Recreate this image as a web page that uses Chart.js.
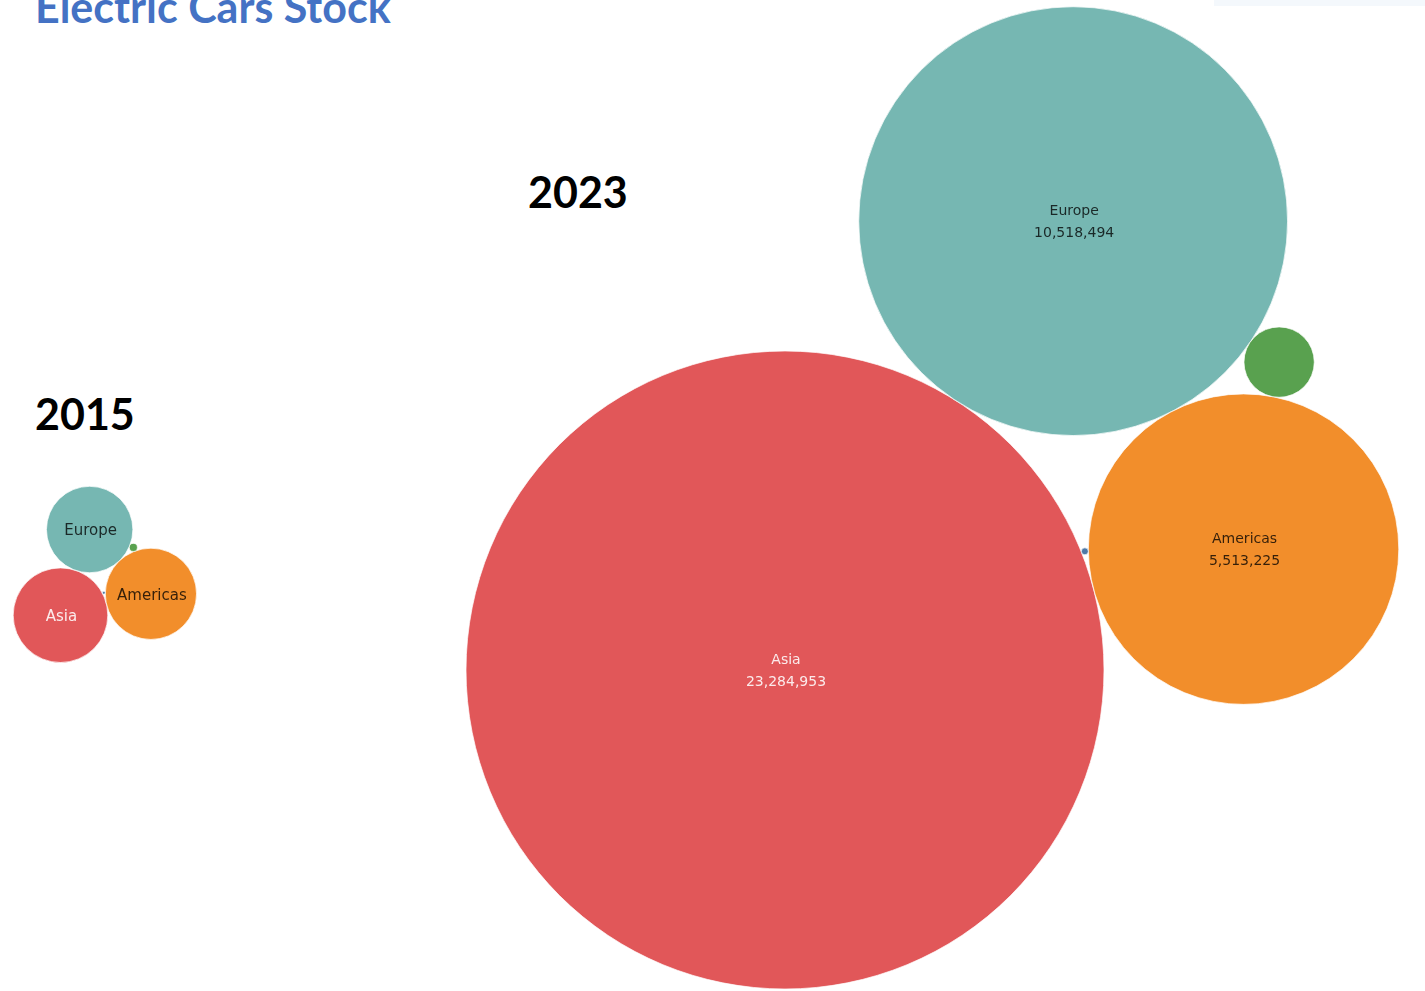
<!DOCTYPE html>
<html>
<head>
<meta charset="utf-8">
<title>Electric Cars Stock</title>
<script src="https://cdn.jsdelivr.net/npm/chart.js@4.4.1/dist/chart.umd.min.js"></script>
<style>
  html, body { margin: 0; padding: 0; background: #fff; overflow: hidden; }
  #wrap { position: relative; width: 1425px; height: 991px; }
  #bubbles { position: absolute; left: 0; top: 0; }
  .title {
    position: absolute; left: 35px; top: -15px; margin: 0;
    font: bold 43px Lato, sans-serif; line-height: 43px; color: #4472c4;
    white-space: nowrap;
  }
  .year {
    position: absolute; margin: 0; font: bold 43px Lato, sans-serif;
    line-height: 43px; color: #000;
  }
  .strip { position: absolute; left: 1214px; top: 0; width: 211px; height: 6px; background: #f4f8fc; }
</style>
</head>
<body>
<div id="wrap">
  <h1 class="title">Electric Cars Stock</h1>
  <div class="year" style="left:528px; top:170px;">2023</div>
  <div class="year" style="left:35px; top:392px;">2015</div>
  <div class="strip"></div>
  <canvas id="bubbles" width="1425" height="991"></canvas>
</div>
<script>
// electric car stock by region
const regions = ['Asia', 'Europe', 'Americas', 'Oceania', 'Africa'];
const stock2015 = [512000, 427000, 476000, 3700, 500];
const stock2023 = [23284953, 10518494, 5513225, 283000, 2800];

const regionColors = {
  Asia: '#e15759',
  Europe: '#76b7b2',
  Americas: '#f28e2b',
  Oceania: '#59a14f',
  Africa: '#4e79a7'
};

const maxRadius = 319; // px for the biggest stock
const maxStock = Math.max(...stock2015, ...stock2023);
const radiusFor = v => maxRadius * Math.sqrt(v / maxStock);

// circle of radius r touching circles a and b, on one side of the line a -> b
function touching(a, b, r, side) {
  const dx = b.x - a.x, dy = b.y - a.y;
  const d = Math.hypot(dx, dy);
  const ra = a.r + r, rb = b.r + r;
  const along = (d * d + ra * ra - rb * rb) / (2 * d);
  const off = Math.sqrt(Math.max(0, ra * ra - along * along));
  const ux = dx / d, uy = dy / d;
  return { x: a.x + ux * along - uy * off * side, y: a.y + uy * along + ux * off * side, r: r };
}

// pack one year's bubbles: first region sits at the anchor, the second touches it
// at the given angle, every next one touches the two regions listed for it
function pack(values, anchor, angle, steps) {
  const circles = {};
  regions.forEach((name, i) => { circles[name] = { r: radiusFor(values[i]), value: values[i], region: name }; });
  const first = circles[steps[0][0]];
  first.x = anchor[0]; first.y = anchor[1];
  const second = circles[steps[1][0]];
  const a = angle * Math.PI / 180;
  second.x = first.x + Math.cos(a) * (first.r + second.r);
  second.y = first.y + Math.sin(a) * (first.r + second.r);
  steps.slice(2).forEach(([name, p, q, side]) => {
    const c = touching(circles[p], circles[q], circles[name].r, side);
    circles[name].x = c.x; circles[name].y = c.y;
  });
  return regions.map(name => circles[name]);
}

const packed2023 = pack(stock2023, [785, 670], -57.3, [
  ['Asia'], ['Europe'],
  ['Americas', 'Asia', 'Europe', 1],
  ['Oceania', 'Europe', 'Americas', -1],
  ['Africa', 'Asia', 'Americas', -1]
]);
const packed2015 = pack(stock2015, [60.5, 615.2], -13.3, [
  ['Asia'], ['Americas'],
  ['Europe', 'Asia', 'Americas', -1],
  ['Oceania', 'Europe', 'Americas', -1],
  ['Africa', 'Asia', 'Americas', -1]
]);

const fmt = new Intl.NumberFormat('en-US');

// names inside the bubbles, plus the value when the bubble is large enough
const bubbleLabels = {
  id: 'bubbleLabels',
  afterDatasetsDraw(chart) {
    const ctx = chart.ctx;
    ctx.save();
    ctx.textAlign = 'center';
    ctx.textBaseline = 'middle';
    chart.data.datasets.forEach((ds, i) => {
      chart.getDatasetMeta(i).data.forEach((el, j) => {
        const p = ds.data[j];
        if (p.r < 40) return;
        ctx.fillStyle = p.region === 'Asia' ? 'rgba(255,255,255,0.88)' : 'rgba(0,0,0,0.78)';
        if (p.r > 100) {
          ctx.font = '14px "DejaVu Sans", sans-serif';
          ctx.fillText(p.region, el.x + 1, el.y - 10);
          ctx.fillText(fmt.format(p.value), el.x + 1, el.y + 12);
        } else {
          ctx.font = '15px "DejaVu Sans", sans-serif';
          ctx.fillText(p.region, el.x + 1, el.y + 2);
        }
      });
    });
    ctx.restore();
  }
};

const toDataset = (label, circles) => ({
  label: label,
  data: circles.map(c => ({ x: c.x, y: c.y, r: c.r, region: c.region, value: c.value })),
  backgroundColor: circles.map(c => regionColors[c.region]),
  borderColor: 'rgba(255,255,255,0.7)',
  borderWidth: 1,
  clip: false
});

new Chart(document.getElementById('bubbles'), {
  type: 'bubble',
  data: {
    datasets: [toDataset('2015', packed2015), toDataset('2023', packed2023)]
  },
  options: {
    responsive: false,
    animation: false,
    events: [],
    layout: { padding: 0, autoPadding: false },
    scales: {
      x: { type: 'linear', display: false, min: 0, max: 1425 },
      y: { type: 'linear', display: false, min: 0, max: 991, reverse: true }
    },
    plugins: {
      legend: { display: false },
      tooltip: { enabled: false }
    }
  },
  plugins: [bubbleLabels]
});
</script>
</body>
</html>
